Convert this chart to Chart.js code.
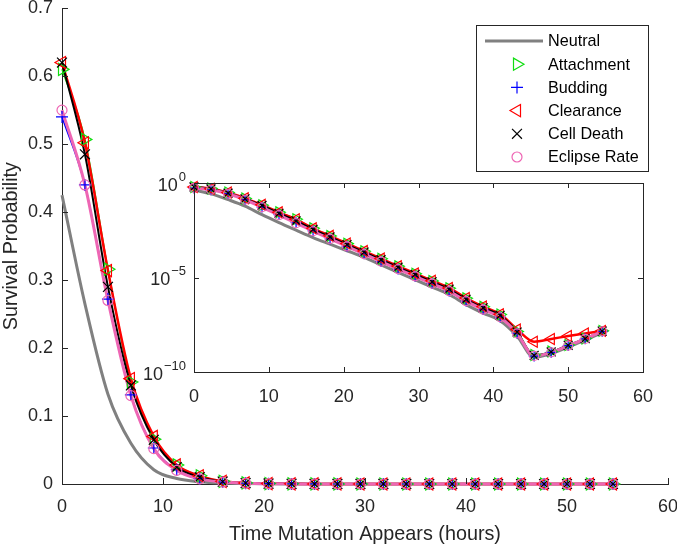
<!DOCTYPE html>
<html>
<head>
<meta charset="utf-8">
<script src="https://cdn.jsdelivr.net/npm/chart.js@4.4.1/dist/chart.umd.min.js"></script>
<style>
  html, body { margin: 0; padding: 0; background: #fff; }
  #wrap { position: relative; width: 677px; height: 546px; }
  #wrap canvas { position: absolute; left: 0; top: 0; }
</style>
</head>
<body>
<div id="wrap">
  <canvas id="mainChart" width="677" height="546"></canvas>
  <canvas id="insetChart" width="677" height="546"></canvas>
</div>
<script>
// time (hours) at which each point is sampled
const times = [0, 2.27, 4.55, 6.82, 9.09, 11.36, 13.64, 15.91, 18.18, 20.45, 22.73, 25.0,
  27.27, 29.55, 31.82, 34.09, 36.36, 38.64, 40.91, 43.18, 45.45, 47.73, 50.0, 52.27, 54.55];

// survival probability, one list per mutation type
const neutral = [0.425, 0.265, 0.132, 0.06, 0.021, 8.0e-3, 3.2e-3, 1.3e-3, 5.8e-4, 2.6e-4,
  1.15e-4, 4.6e-5, 1.86e-5, 7.6e-6, 3.1e-6, 1.26e-6, 3.7e-7, 1.3e-7, 5.2e-8, 7.9e-9,
  6.0e-10, 9.5e-10, 2.1e-9, 4.8e-9, 1.2e-8];
const attachment = [0.61, 0.507, 0.316, 0.15, 0.066, 0.028, 0.012, 4.0e-3, 1.55e-3, 6.2e-4,
  2.45e-4, 9.7e-5, 3.9e-5, 1.6e-5, 6.6e-6, 2.7e-6, 7.9e-7, 2.8e-7, 1.1e-7, 1.4e-8,
  8.0e-10, 1.2e-9, 2.7e-9, 6.0e-9, 1.5e-8];
const budding = [0.54, 0.44, 0.272, 0.131, 0.053, 0.021, 8.0e-3, 2.9e-3, 1.1e-3, 4.4e-4,
  1.76e-4, 7.0e-5, 2.8e-5, 1.15e-5, 4.7e-6, 1.9e-6, 5.6e-7, 2.0e-7, 8.0e-8, 1.1e-8,
  7.0e-10, 1.1e-9, 2.5e-9, 5.6e-9, 1.4e-8];
const clearance = [0.62, 0.502, 0.314, 0.155, 0.07, 0.028, 0.012, 4.0e-3, 1.6e-3, 6.3e-4,
  2.5e-4, 1.0e-4, 4.0e-5, 1.65e-5, 6.8e-6, 2.8e-6, 8.2e-7, 2.9e-7, 1.15e-7, 1.8e-8,
  4.0e-9, 5.6e-9, 8.0e-9, 1.1e-8, 1.5e-8];
const cellDeath = [0.62, 0.485, 0.29, 0.145, 0.065, 0.025, 0.01, 3.5e-3, 1.4e-3, 5.5e-4,
  2.2e-4, 8.7e-5, 3.5e-5, 1.45e-5, 5.9e-6, 2.4e-6, 7.0e-7, 2.5e-7, 1.0e-7, 1.3e-8,
  7.5e-10, 1.15e-9, 2.6e-9, 5.8e-9, 1.45e-8];
const eclipse = [0.55, 0.44, 0.27, 0.13, 0.052, 0.02, 7.5e-3, 2.8e-3, 1.1e-3, 4.4e-4,
  1.74e-4, 6.9e-5, 2.8e-5, 1.15e-5, 4.7e-6, 1.9e-6, 5.6e-7, 2.0e-7, 7.9e-8, 1.1e-8,
  7.1e-10, 1.1e-9, 2.5e-9, 5.6e-9, 1.4e-8];

const seriesNames = ['Neutral', 'Attachment', 'Budding', 'Clearance', 'Cell Death', 'Eclipse Rate'];
const insetYTicks = [1e-10, 1e-5, 1];

const FONT = "'Liberation Sans', Arial, Helvetica, sans-serif";
const AXIS = '#262626';

const styles = [
  { vals: neutral, color: '#808080', lw: 3, marker: null },
  { vals: attachment, color: '#11dd11', lw: 1.5, marker: 'triangle', rot: 90, r: 7 },
  { vals: budding, color: '#0000ff', lw: 1.5, marker: 'cross', r: 6 },
  { vals: clearance, color: '#ff0000', lw: 2.5, marker: 'triangle', rot: -90, r: 7 },
  { vals: cellDeath, color: '#000000', lw: 2, marker: 'crossRot', r: 7 },
  { vals: eclipse, color: '#ee66b4', lw: 3, marker: 'circle', r: 5 }
];

function pts(vals) {
  return times.map((t, i) => ({ x: t, y: vals[i] }));
}

function buildDatasets(scale) {
  const ds = [];
  styles.forEach((s, i) => {
    ds.push({
      label: seriesNames[i], data: pts(s.vals), borderColor: s.color, borderWidth: s.lw,
      pointRadius: 0, pointHoverRadius: 0, fill: false, cubicInterpolationMode: 'monotone',
      clip: false, order: 20 - i
    });
    if (s.marker) {
      ds.push({
        label: seriesNames[i] + ' markers', data: pts(s.vals), showLine: false,
        pointStyle: s.marker, pointRotation: s.rot || 0, pointRadius: s.r * scale,
        pointHoverRadius: s.r * scale, pointBorderColor: s.color,
        pointBackgroundColor: 'rgba(0,0,0,0)', pointBorderWidth: 1.2,
        clip: false, order: 10 - i
      });
    }
  });
  return ds;
}

function tickLine(ctx, x1, y1, x2, y2) {
  ctx.moveTo(x1, y1);
  ctx.lineTo(x2, y2);
}

// no extra room for overhanging tick labels, the axes box is fixed
function noPadX(s, h) { s.height = h; s.paddingLeft = 0; s.paddingRight = 0; }
function noPadY(s, w) { s.width = w; s.paddingTop = 0; s.paddingBottom = 0; }

// inward ticks + legend for the big axes
const mainDecor = {
  id: 'mainDecor',
  afterDraw(chart) {
    const { ctx, chartArea: a, scales: { x, y } } = chart;
    ctx.save();
    ctx.strokeStyle = AXIS;
    ctx.lineWidth = 1;
    ctx.beginPath();
    x.ticks.forEach(t => {
      const px = Math.round(x.getPixelForValue(t.value)) + 0.5;
      tickLine(ctx, px, a.bottom, px, a.bottom - 6);
    });
    y.ticks.forEach(t => {
      const py = Math.round(y.getPixelForValue(t.value)) + 0.5;
      tickLine(ctx, a.left, py, a.left + 6, py);
    });
    ctx.stroke();

    // legend
    const bx = 476.5, by = 25.5, bw = 172, bh = 146;
    ctx.fillStyle = '#fff';
    ctx.fillRect(bx, by, bw, bh);
    ctx.strokeStyle = AXIS;
    ctx.strokeRect(bx, by, bw, bh);
    ctx.font = '16.2px ' + FONT;
    ctx.textBaseline = 'middle';
    ctx.textAlign = 'left';
    styles.forEach((s, i) => {
      const ly = 41 + i * 23.2;
      if (!s.marker) {
        ctx.strokeStyle = s.color;
        ctx.lineWidth = s.lw;
        ctx.beginPath();
        tickLine(ctx, 485, ly, 543, ly);
        ctx.stroke();
      } else {
        ctx.strokeStyle = s.color;
        ctx.fillStyle = 'rgba(0,0,0,0)';
        ctx.lineWidth = 1.2;
        Chart.helpers.drawPoint(ctx, { pointStyle: s.marker, rotation: s.rot || 0, radius: s.r, borderWidth: 1.2 }, 517, ly);
      }
      ctx.fillStyle = '#000';
      ctx.fillText(seriesNames[i], 548, ly + 1);
    });
    ctx.restore();
  }
};

// white background, box, ticks on all sides and 10^n labels for the inset
const insetDecor = {
  id: 'insetDecor',
  beforeDraw(chart) {
    const { ctx, chartArea: a } = chart;
    ctx.save();
    ctx.fillStyle = '#fff';
    ctx.fillRect(a.left, a.top, a.right - a.left, a.bottom - a.top);
    ctx.restore();
  },
  afterDraw(chart) {
    const { ctx, chartArea: a, scales: { x, y } } = chart;
    ctx.save();
    ctx.strokeStyle = AXIS;
    ctx.lineWidth = 1;
    ctx.strokeRect(Math.round(a.left) + 0.5, Math.round(a.top) + 0.5,
      Math.round(a.right - a.left), Math.round(a.bottom - a.top));
    ctx.beginPath();
    x.ticks.forEach(t => {
      const px = Math.round(x.getPixelForValue(t.value)) + 0.5;
      tickLine(ctx, px, a.bottom, px, a.bottom - 5);
      tickLine(ctx, px, a.top, px, a.top + 5);
    });
    y.ticks.forEach(t => {
      const py = Math.round(y.getPixelForValue(t.value)) + 0.5;
      tickLine(ctx, a.left, py, a.left + 5, py);
      tickLine(ctx, a.right, py, a.right - 5, py);
    });
    ctx.stroke();

    ctx.fillStyle = AXIS;
    ctx.textBaseline = 'middle';
    y.ticks.forEach(t => {
      const py = y.getPixelForValue(t.value);
      const exp = String(Math.round(Math.log10(t.value))).replace('-', '\u2212');
      ctx.font = '13px ' + FONT;
      const ew = ctx.measureText(exp).width;
      ctx.textAlign = 'right';
      const right = a.left - 8;
      ctx.fillText(exp, right, py - 6);
      ctx.font = '18px ' + FONT;
      ctx.fillText('10', right - ew - 1, py + 3);
    });
    ctx.restore();
  }
};

const tickFont = { family: FONT, size: 18 };

new Chart(document.getElementById('mainChart'), {
  type: 'line',
  data: { datasets: buildDatasets(1) },
  options: {
    responsive: false,
    animation: false,
    devicePixelRatio: 1,
    events: [],
    layout: { padding: { left: 0, right: 9, top: 6, bottom: 0 } },
    plugins: { legend: { display: false }, tooltip: { enabled: false } },
    scales: {
      x: {
        type: 'linear', min: 0, max: 60,
        ticks: { stepSize: 10, color: AXIS, font: tickFont, padding: 12, maxRotation: 0 },
        grid: { display: false, drawTicks: false },
        border: { display: true, color: AXIS, width: 1 },
        title: { display: true, text: 'Time Mutation Appears (hours)', color: AXIS,
          font: { family: FONT, size: 19.8 }, padding: { top: 0, bottom: 0 } },
        afterFit: s => noPadX(s, 62)
      },
      y: {
        type: 'linear', min: 0, max: 0.7,
        ticks: { stepSize: 0.1, color: AXIS, font: tickFont, padding: 9,
          callback: v => String(Number(v.toFixed(1))) },
        grid: { display: false, drawTicks: false },
        border: { display: true, color: AXIS, width: 1 },
        title: { display: true, text: 'Survival Probability', color: AXIS,
          font: { family: FONT, size: 19.8 }, padding: 0 },
        afterFit: s => noPadY(s, 62)
      }
    }
  },
  plugins: [mainDecor]
});

new Chart(document.getElementById('insetChart'), {
  type: 'line',
  data: { datasets: buildDatasets(0.9) },
  options: {
    responsive: false,
    animation: false,
    devicePixelRatio: 1,
    events: [],
    layout: { padding: { left: 134, right: 34, top: 183, bottom: 144 } },
    plugins: { legend: { display: false }, tooltip: { enabled: false } },
    scales: {
      x: {
        type: 'linear', min: 0, max: 60,
        ticks: { stepSize: 10, color: AXIS, font: tickFont, padding: 14, maxRotation: 0 },
        grid: { display: false, drawTicks: false },
        border: { display: false },
        afterFit: s => noPadX(s, 30)
      },
      y: {
        type: 'logarithmic', min: 1e-10, max: 1,
        ticks: { display: false },
        grid: { display: false, drawTicks: false },
        border: { display: false },
        afterBuildTicks: s => { s.ticks = insetYTicks.map(v => ({ value: v })); },
        afterFit: s => noPadY(s, 60)
      }
    }
  },
  plugins: [insetDecor]
});
</script>
</body>
</html>
